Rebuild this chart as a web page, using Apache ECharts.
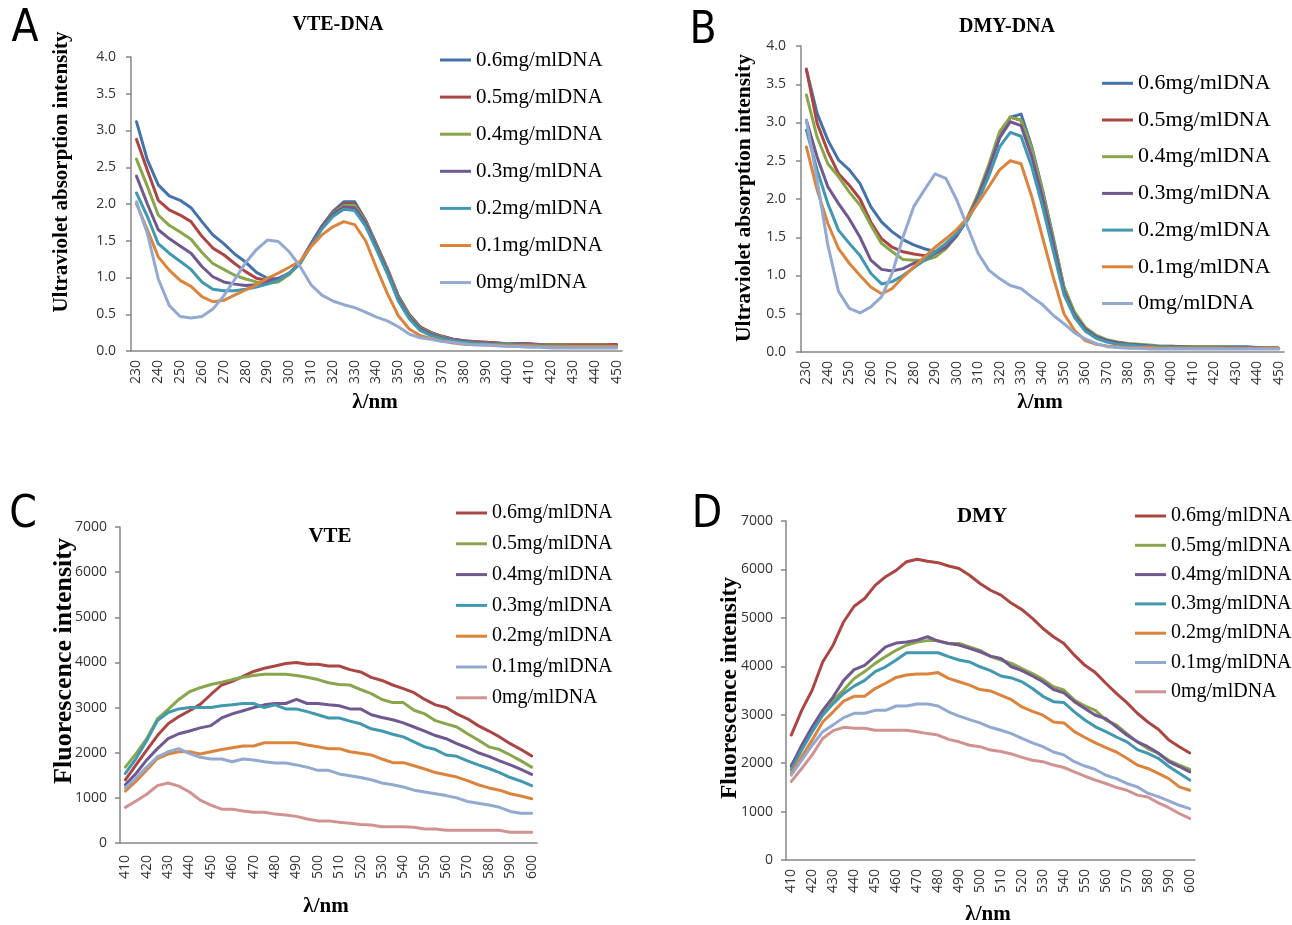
<!DOCTYPE html>
<html>
<head>
<meta charset="utf-8">
<script src="https://cdn.jsdelivr.net/npm/echarts@6/dist/echarts.min.js"></script>
<style>
  html, body { margin: 0; padding: 0; background: #fff; }
  #wrap { position: relative; width: 1292px; height: 925px; }
  .panel { position: absolute; width: 646px; }
</style>
</head>
<body>
<div id="wrap">
  <div id="chartA" class="panel" style="left:0;top:0;height:462px"></div>
  <div id="chartB" class="panel" style="left:646px;top:0;height:462px"></div>
  <div id="chartC" class="panel" style="left:0;top:462px;height:463px"></div>
  <div id="chartD" class="panel" style="left:646px;top:462px;height:463px"></div>
</div>
<script>
  // 系列名称
  var names = ['0.6mg/mlDNA', '0.5mg/mlDNA', '0.4mg/mlDNA', '0.3mg/mlDNA', '0.2mg/mlDNA', '0.1mg/mlDNA', '0mg/mlDNA'];

  // 紫外波长 230-450 nm
  var uvWave = [230, 235, 240, 245, 250, 255, 260, 265, 270, 275, 280, 285, 290, 295, 300, 305, 310, 315, 320, 325, 330,
    335, 340, 345, 350, 355, 360, 365, 370, 375, 380, 385, 390, 395, 400, 405, 410, 415, 420, 425, 430, 435, 440, 445, 450];
  // 荧光波长 410-600 nm
  var flWave = [410, 415, 420, 425, 430, 435, 440, 445, 450, 455, 460, 465, 470, 475, 480, 485, 490, 495, 500, 505,
    510, 515, 520, 525, 530, 535, 540, 545, 550, 555, 560, 565, 570, 575, 580, 585, 590, 595, 600];

  // A: VTE-DNA
  var vteUv06 = [3.12, 2.6, 2.26, 2.11, 2.05, 1.95, 1.76, 1.58, 1.46, 1.32, 1.21, 1.07, 0.99, 0.98, 1.05, 1.2, 1.46, 1.7, 1.9, 2.03,
    2.03, 1.78, 1.45, 1.12, 0.75, 0.5, 0.33, 0.25, 0.2, 0.16, 0.14, 0.12, 0.12, 0.11, 0.1, 0.1, 0.1, 0.08, 0.08, 0.08, 0.08, 0.08, 0.08, 0.08, 0.08];
  var vteUv05 = [2.88, 2.46, 2.05, 1.92, 1.85, 1.76, 1.56, 1.4, 1.31, 1.19, 1.08, 0.99, 0.96, 0.97, 1.05, 1.2, 1.46, 1.7, 1.88, 2.0,
    2.0, 1.77, 1.44, 1.11, 0.74, 0.49, 0.32, 0.25, 0.2, 0.16, 0.14, 0.13, 0.12, 0.11, 0.1, 0.1, 0.1, 0.09, 0.09, 0.09, 0.09, 0.09, 0.09, 0.09, 0.09];
  var vteUv04 = [2.61, 2.24, 1.85, 1.71, 1.62, 1.52, 1.34, 1.19, 1.11, 1.03, 0.98, 0.94, 0.92, 0.94, 1.04, 1.19, 1.45, 1.69, 1.87, 1.98,
    1.98, 1.76, 1.43, 1.1, 0.73, 0.48, 0.31, 0.24, 0.19, 0.15, 0.13, 0.12, 0.11, 0.1, 0.1, 0.09, 0.09, 0.08, 0.08, 0.08, 0.08, 0.08, 0.08, 0.08, 0.07];
  var vteUv03 = [2.38, 2.0, 1.65, 1.53, 1.43, 1.33, 1.15, 1.01, 0.94, 0.91, 0.89, 0.9, 0.94, 0.99, 1.06, 1.2, 1.45, 1.69, 1.86, 1.96,
    1.95, 1.74, 1.41, 1.08, 0.71, 0.46, 0.3, 0.23, 0.18, 0.15, 0.13, 0.12, 0.11, 0.1, 0.09, 0.09, 0.09, 0.08, 0.07, 0.07, 0.07, 0.07, 0.07, 0.07, 0.07];
  var vteUv02 = [2.15, 1.83, 1.46, 1.33, 1.22, 1.11, 0.94, 0.84, 0.82, 0.82, 0.84, 0.87, 0.91, 0.96, 1.06, 1.19, 1.43, 1.66, 1.83, 1.93,
    1.91, 1.7, 1.38, 1.05, 0.68, 0.44, 0.28, 0.21, 0.17, 0.14, 0.12, 0.11, 0.1, 0.09, 0.09, 0.08, 0.08, 0.07, 0.07, 0.07, 0.06, 0.06, 0.06, 0.06, 0.06];
  var vteUv01 = [2.0, 1.65, 1.28, 1.1, 0.96, 0.88, 0.74, 0.67, 0.69, 0.76, 0.83, 0.9, 0.99, 1.06, 1.14, 1.22, 1.42, 1.58, 1.69, 1.76,
    1.72, 1.5, 1.13, 0.78, 0.48, 0.3, 0.21, 0.17, 0.14, 0.11, 0.09, 0.09, 0.08, 0.08, 0.07, 0.07, 0.07, 0.06, 0.06, 0.06, 0.06, 0.06, 0.06, 0.06, 0.06];
  var vteUv00 = [2.03, 1.6, 0.98, 0.62, 0.47, 0.45, 0.47, 0.57, 0.75, 0.97, 1.2, 1.38, 1.51, 1.49, 1.35, 1.15, 0.9, 0.76, 0.68, 0.63,
    0.59, 0.53, 0.46, 0.41, 0.33, 0.23, 0.18, 0.16, 0.13, 0.12, 0.1, 0.08, 0.08, 0.07, 0.06, 0.06, 0.05, 0.05, 0.04, 0.04, 0.04, 0.04, 0.04, 0.04, 0.04];

  // B: DMY-DNA
  var dmyUv06 = [3.69, 3.12, 2.77, 2.51, 2.38, 2.2, 1.9, 1.7, 1.57, 1.47, 1.4, 1.35, 1.31, 1.36, 1.52, 1.75, 2.05, 2.42, 2.8, 3.07,
    3.11, 2.68, 2.12, 1.5, 0.85, 0.5, 0.3, 0.2, 0.15, 0.12, 0.1, 0.09, 0.08, 0.07, 0.07, 0.07, 0.07, 0.07, 0.07, 0.07, 0.07, 0.07, 0.06, 0.06, 0.05];
  var dmyUv05 = [3.7, 2.99, 2.62, 2.33, 2.18, 2.0, 1.7, 1.48, 1.37, 1.31, 1.28, 1.26, 1.29, 1.37, 1.52, 1.75, 2.05, 2.42, 2.82, 3.07,
    3.03, 2.64, 2.08, 1.45, 0.8, 0.47, 0.28, 0.19, 0.14, 0.11, 0.1, 0.09, 0.08, 0.07, 0.07, 0.07, 0.07, 0.07, 0.07, 0.06, 0.06, 0.06, 0.06, 0.06, 0.05];
  var dmyUv04 = [3.36, 2.81, 2.46, 2.29, 2.09, 1.92, 1.66, 1.42, 1.31, 1.21, 1.2, 1.2, 1.24, 1.35, 1.52, 1.75, 2.07, 2.45, 2.88, 3.07,
    3.03, 2.66, 2.1, 1.48, 0.85, 0.52, 0.32, 0.22, 0.16, 0.13, 0.11, 0.1, 0.09, 0.08, 0.08, 0.07, 0.07, 0.07, 0.07, 0.07, 0.06, 0.06, 0.06, 0.06, 0.05];
  var dmyUv03 = [3.03, 2.55, 2.16, 1.94, 1.74, 1.5, 1.2, 1.08, 1.06, 1.09, 1.16, 1.2, 1.29, 1.37, 1.52, 1.73, 2.03, 2.4, 2.8, 3.01,
    2.96, 2.55, 2.02, 1.42, 0.8, 0.48, 0.3, 0.2, 0.15, 0.12, 0.1, 0.09, 0.08, 0.07, 0.07, 0.07, 0.06, 0.06, 0.06, 0.06, 0.06, 0.06, 0.06, 0.05, 0.05];
  var dmyUv02 = [2.9, 2.38, 1.94, 1.59, 1.42, 1.26, 1.03, 0.89, 0.92, 1.0, 1.1, 1.2, 1.31, 1.42, 1.55, 1.72, 1.98, 2.3, 2.68, 2.87,
    2.82, 2.42, 1.9, 1.32, 0.75, 0.45, 0.27, 0.18, 0.13, 0.1, 0.09, 0.08, 0.07, 0.07, 0.06, 0.06, 0.06, 0.06, 0.06, 0.05, 0.05, 0.05, 0.05, 0.05, 0.05];
  var dmyUv01 = [2.68, 2.12, 1.68, 1.35, 1.16, 1.0, 0.85, 0.76, 0.83, 0.98, 1.11, 1.24, 1.37, 1.48, 1.6, 1.75, 1.95, 2.16, 2.38, 2.5,
    2.46, 2.03, 1.5, 0.98, 0.5, 0.28, 0.15, 0.1, 0.08, 0.07, 0.06, 0.06, 0.06, 0.05, 0.05, 0.05, 0.05, 0.05, 0.05, 0.05, 0.05, 0.05, 0.05, 0.05, 0.05];
  var dmyUv00 = [3.03, 2.25, 1.4, 0.79, 0.57, 0.51, 0.59, 0.72, 1.03, 1.5, 1.9, 2.12, 2.33, 2.27, 1.99, 1.64, 1.29, 1.07, 0.96, 0.87,
    0.83, 0.72, 0.62, 0.48, 0.37, 0.25, 0.17, 0.11, 0.07, 0.06, 0.05, 0.05, 0.04, 0.04, 0.04, 0.04, 0.04, 0.04, 0.04, 0.04, 0.04, 0.04, 0.04, 0.04, 0.04];

  // C: VTE 荧光
  var vteFl06 = [1400, 1730, 2060, 2380, 2640, 2800, 2930, 3070, 3290, 3500, 3580, 3690, 3800, 3870, 3920, 3975, 4000, 3960, 3960, 3920,
    3920, 3840, 3790, 3670, 3600, 3500, 3420, 3330, 3180, 3060, 3000, 2860, 2750, 2600, 2480, 2350, 2200, 2070, 1930];
  var vteFl05 = [1680, 1980, 2310, 2750, 2960, 3180, 3350, 3440, 3510, 3560, 3620, 3670, 3710, 3740, 3740, 3740, 3710, 3670, 3620, 3550,
    3510, 3500, 3400, 3310, 3180, 3110, 3110, 2940, 2860, 2710, 2640, 2570, 2420, 2280, 2130, 2070, 1950, 1820, 1680];
  var vteFl04 = [1290, 1540, 1840, 2090, 2310, 2420, 2480, 2550, 2600, 2770, 2860, 2930, 3000, 3060, 3090, 3090, 3180, 3090, 3090, 3060,
    3040, 2970, 2970, 2840, 2780, 2730, 2660, 2570, 2480, 2380, 2310, 2200, 2110, 2000, 1920, 1820, 1730, 1630, 1520];
  var vteFl03 = [1540, 1870, 2270, 2710, 2890, 2970, 3000, 3000, 3000, 3040, 3060, 3090, 3090, 3000, 3060, 2970, 2970, 2910, 2840, 2770,
    2770, 2700, 2640, 2530, 2480, 2410, 2350, 2240, 2130, 2070, 1950, 1920, 1820, 1730, 1650, 1560, 1450, 1370, 1270];
  var vteFl02 = [1150, 1370, 1620, 1870, 1970, 2020, 2020, 1970, 2020, 2070, 2110, 2150, 2150, 2220, 2220, 2220, 2220, 2170, 2130, 2090,
    2090, 2020, 1990, 1950, 1860, 1780, 1780, 1710, 1640, 1560, 1510, 1460, 1380, 1290, 1220, 1170, 1090, 1040, 980];
  var vteFl01 = [1220, 1440, 1680, 1910, 2020, 2090, 1980, 1900, 1860, 1860, 1800, 1860, 1840, 1800, 1770, 1770, 1730, 1680, 1610, 1610,
    1530, 1490, 1450, 1400, 1330, 1290, 1240, 1170, 1130, 1090, 1050, 1000, 920, 880, 840, 790, 700, 660, 660];
  var vteFl00 = [790, 930, 1080, 1270, 1330, 1260, 1130, 950, 840, 750, 750, 710, 680, 680, 640, 620, 590, 530, 490, 490,
    460, 440, 410, 400, 360, 360, 360, 350, 310, 310, 280, 280, 280, 280, 280, 280, 240, 240, 240];

  // D: DMY 荧光
  var dmyFl06 = [2580, 3090, 3510, 4090, 4440, 4920, 5240, 5400, 5670, 5850, 5980, 6160, 6210, 6170, 6140, 6070, 6020, 5880, 5710, 5570,
    5470, 5300, 5170, 4990, 4780, 4610, 4470, 4230, 4020, 3870, 3650, 3440, 3250, 3030, 2850, 2700, 2480, 2340, 2210];
  var dmyFl05 = [1960, 2300, 2680, 3030, 3300, 3510, 3750, 3890, 4060, 4200, 4330, 4440, 4500, 4530, 4530, 4470, 4470, 4400, 4330, 4200,
    4130, 4060, 3950, 3850, 3730, 3580, 3510, 3300, 3180, 3090, 2890, 2790, 2610, 2440, 2300, 2200, 2060, 1960, 1870];
  var dmyFl04 = [1930, 2370, 2750, 3090, 3370, 3710, 3930, 4020, 4210, 4400, 4480, 4500, 4540, 4610, 4520, 4470, 4440, 4370, 4300, 4210,
    4160, 3990, 3910, 3800, 3680, 3520, 3450, 3270, 3130, 2990, 2920, 2750, 2580, 2440, 2340, 2210, 2030, 1930, 1820];
  var dmyFl03 = [1860, 2270, 2650, 2990, 3230, 3440, 3590, 3710, 3890, 3990, 4130, 4280, 4280, 4280, 4280, 4200, 4130, 4090, 3990, 3910,
    3800, 3760, 3680, 3540, 3380, 3270, 3250, 3060, 2890, 2750, 2650, 2540, 2440, 2280, 2200, 2100, 1930, 1790, 1650];
  var dmyFl02 = [1790, 2130, 2480, 2850, 3060, 3280, 3380, 3380, 3540, 3650, 3770, 3820, 3840, 3840, 3870, 3750, 3680, 3610, 3520, 3490,
    3400, 3310, 3160, 3070, 2990, 2850, 2830, 2650, 2530, 2420, 2320, 2230, 2100, 1960, 1890, 1790, 1680, 1510, 1440];
  var dmyFl01 = [1750, 2060, 2370, 2650, 2790, 2940, 3030, 3030, 3090, 3090, 3180, 3180, 3220, 3220, 3180, 3060, 2970, 2900, 2830, 2740,
    2680, 2610, 2510, 2420, 2340, 2230, 2170, 2030, 1940, 1870, 1750, 1680, 1580, 1510, 1380, 1310, 1220, 1130, 1060];
  var dmyFl00 = [1620, 1890, 2170, 2510, 2670, 2740, 2720, 2720, 2680, 2680, 2680, 2680, 2650, 2610, 2580, 2490, 2440, 2370, 2340, 2270,
    2240, 2190, 2120, 2060, 2030, 1960, 1910, 1820, 1730, 1650, 1580, 1500, 1440, 1340, 1300, 1180, 1080, 960, 860];

  // 颜色
  var uvColors = ['#4572A7', '#AA4643', '#89A54E', '#71588F', '#4198AF', '#DB843D', '#93A9CF'];
  var flColors = ['#AA4643', '#89A54E', '#71588F', '#4198AF', '#DB843D', '#93A9CF', '#D19392'];

  var SERIF = '"Liberation Serif", "Times New Roman", serif';
  var SANS = '"Open Sans", "Noto Sans", sans-serif';
  var LETTER = '44px "Liberation Sans Narrow", "DejaVu Sans Condensed", "Noto Sans", sans-serif';
  var AXIS_GRAY = '#868686';

  function txt(x, y, s, font, rot) {
    return {
      type: 'text', x: x, y: y, rotation: rot || 0, silent: true,
      style: { text: s, font: font, fill: '#000', textAlign: 'center', textVerticalAlign: 'middle' }
    };
  }

  function makePanel(id, p) {
    var myChart = echarts.init(document.getElementById(id));
    var series = p.data.map(function (d, i) {
      return {
        name: names[i],
        type: 'line',
        data: d,
        symbol: 'none',
        lineStyle: { width: 3, color: p.colors[i], join: 'round', cap: 'round' },
        itemStyle: { color: p.colors[i] },
        emphasis: { disabled: true }
      };
    });
    myChart.setOption({
      animation: false,
      grid: { left: p.grid[0], top: p.grid[1], width: p.grid[2], height: p.grid[3], outerBoundsMode: 'none' },
      legend: {
        orient: 'vertical',
        left: p.legend[0],
        top: p.legend[1],
        padding: 0,
        itemGap: p.legend[2],
        itemWidth: 31,
        itemHeight: 3,
        icon: 'rect',
        selectedMode: false,
        textStyle: { fontFamily: SERIF, fontSize: p.legend[3], lineHeight: p.legend[3], color: '#000' },
        data: names
      },
      xAxis: {
        type: 'category',
        data: p.cats,
        boundaryGap: true,
        axisLine: { lineStyle: { color: AXIS_GRAY, width: 1.5 } },
        axisTick: { interval: 0, length: 5, lineStyle: { color: AXIS_GRAY, width: 1.5 } },
        axisLabel: { interval: 1, rotate: 90, margin: p.xMargin, fontFamily: SANS, fontSize: p.xFont, color: '#333' }
      },
      yAxis: {
        type: 'value',
        min: 0,
        max: p.max,
        interval: p.step,
        axisLine: { show: true, lineStyle: { color: AXIS_GRAY, width: 1.5 } },
        axisTick: { show: true, length: 5, lineStyle: { color: AXIS_GRAY, width: 1.5 } },
        splitLine: { show: false },
        axisLabel: { margin: p.yMargin, fontFamily: SANS, fontSize: p.yFont, color: '#333', formatter: p.fmt }
      },
      graphic: [
        txt(p.letter[0], p.letter[1], p.letter[2], LETTER),
        txt(p.title[0], p.title[1], p.title[2], 'bold ' + p.title[3] + 'px ' + SERIF),
        txt(p.yName[0], p.yName[1], p.yName[2], 'bold ' + p.yName[3] + 'px ' + SERIF, Math.PI / 2),
        txt(p.xName[0], p.xName[1], 'λ/nm', 'bold 21px ' + SERIF)
      ],
      series: series
    });
    window.addEventListener('resize', function () { myChart.resize(); });
  }

  var oneDec = function (v) { return v.toFixed(1); };
  var plain = function (v) { return String(v); };

  makePanel('chartA', {
    cats: uvWave, colors: uvColors, max: 4, step: 0.5, fmt: oneDec,
    data: [vteUv06, vteUv05, vteUv04, vteUv03, vteUv02, vteUv01, vteUv00],
    grid: [131, 57, 491, 294], legend: [440, 49.5, 16.1, 21],
    xMargin: 9, xFont: 14, yMargin: 15, yFont: 14,
    letter: [25, 30, 'A'], title: [338, 25, 'VTE-DNA', 20],
    yName: [62, 172, 'Ultraviolet absorption intensity', 21], xName: [375, 403]
  });

  makePanel('chartB', {
    cats: uvWave, colors: uvColors, max: 4, step: 0.5, fmt: oneDec,
    data: [dmyUv06, dmyUv05, dmyUv04, dmyUv03, dmyUv02, dmyUv01, dmyUv00],
    grid: [155, 46, 483, 306], legend: [456, 72.3, 14.7, 22],
    xMargin: 9, xFont: 14, yMargin: 15, yFont: 14,
    letter: [57, 32, 'B'], title: [361, 27, 'DMY-DNA', 20],
    yName: [98, 198, 'Ultraviolet absorption intensity', 21.5], xName: [394, 403]
  });

  makePanel('chartC', {
    cats: flWave, colors: flColors, max: 7000, step: 1000, fmt: plain,
    data: [vteFl06, vteFl05, vteFl04, vteFl03, vteFl02, vteFl01, vteFl00],
    grid: [120, 65, 417, 316], legend: [456, 41, 10.8, 20],
    xMargin: 12, xFont: 14, yMargin: 13, yFont: 14,
    letter: [23, 54, 'C'], title: [330, 75, 'VTE', 21],
    yName: [64, 199, 'Fluorescence intensity', 26], xName: [326, 445]
  });

  makePanel('chartD', {
    cats: flWave, colors: flColors, max: 7000, step: 1000, fmt: plain,
    data: [dmyFl06, dmyFl05, dmyFl04, dmyFl03, dmyFl02, dmyFl01, dmyFl00],
    grid: [140, 59, 409, 339], legend: [489, 44, 9.3, 20],
    xMargin: 9, xFont: 14, yMargin: 13, yFont: 14,
    letter: [61, 54, 'D'], title: [336, 55, 'DMY', 21],
    yName: [84, 226, 'Fluorescence intensity', 23.5], xName: [342, 453]
  });
</script>
</body>
</html>
